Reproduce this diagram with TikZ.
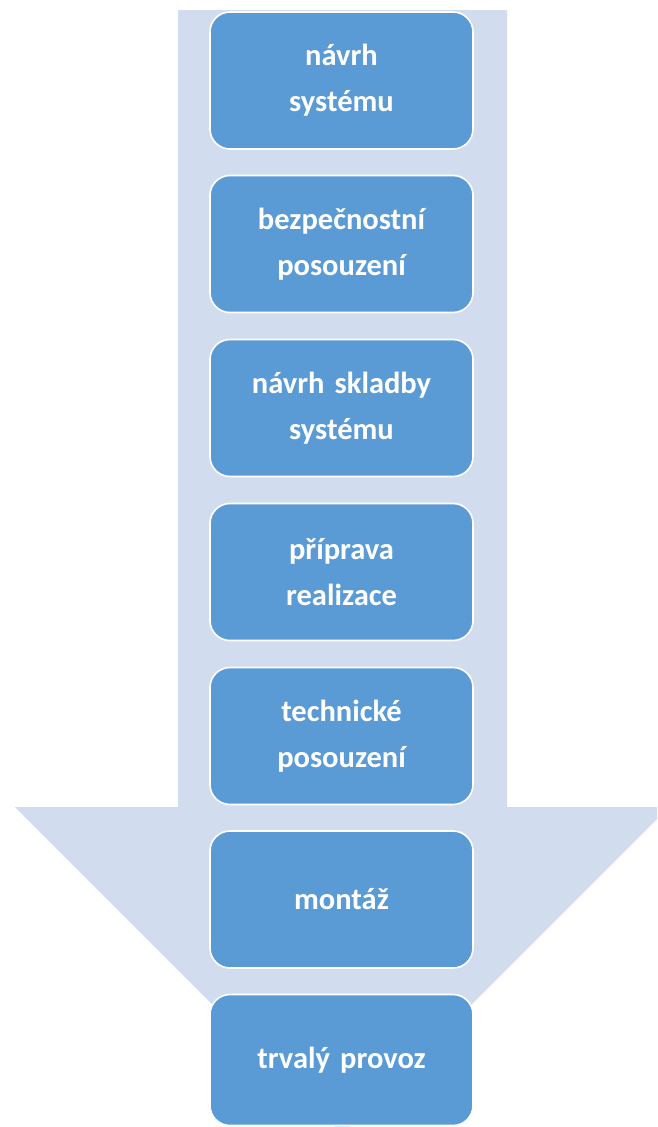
\documentclass[tikz,border=0pt]{standalone}
\usepackage{fontspec}
\setmainfont{Carlito}
\definecolor{arrowfill}{RGB}{209,221,238}
\definecolor{boxfill}{RGB}{91,155,213}
\begin{document}
\begin{tikzpicture}[x=1pt,y=-1pt,
  stepbox/.style={draw=white, line width=1.6pt, fill=boxfill, rounded corners=20pt,
    minimum width=263pt, minimum height=137pt, text width=250pt, align=center,
    text=white, font=\fontsize{30.5}{46}\selectfont\bfseries, inner sep=0pt}]
\useasboundingbox (0,0) rectangle (657,1127);
\begin{scope}
\clip (0,0) rectangle (657,1127);
\fill[arrowfill] (178,10) -- (507,10) -- (507,807) -- (669,807) -- (342,1134) -- (15,807) -- (178,807) -- cycle;
\node[stepbox] (s1) at (341.5,80.5) {návrh\\systému};
\node[stepbox] (s2) at (341.5,244) {bezpečnostní\\posouzení};
\node[stepbox] (s3) at (341.5,408) {návrh skladby\\systému};
\node[stepbox] (s4) at (341.5,572) {příprava\\realizace};
\node[stepbox] (s5) at (341.5,736) {technické\\posouzení};
\node[stepbox] (s6) at (341.5,899.5) {montáž};
\node[stepbox, minimum height=131pt] (s7) at (341.5,1060) {trvalý provoz};
\end{scope}
\end{tikzpicture}
\end{document}
